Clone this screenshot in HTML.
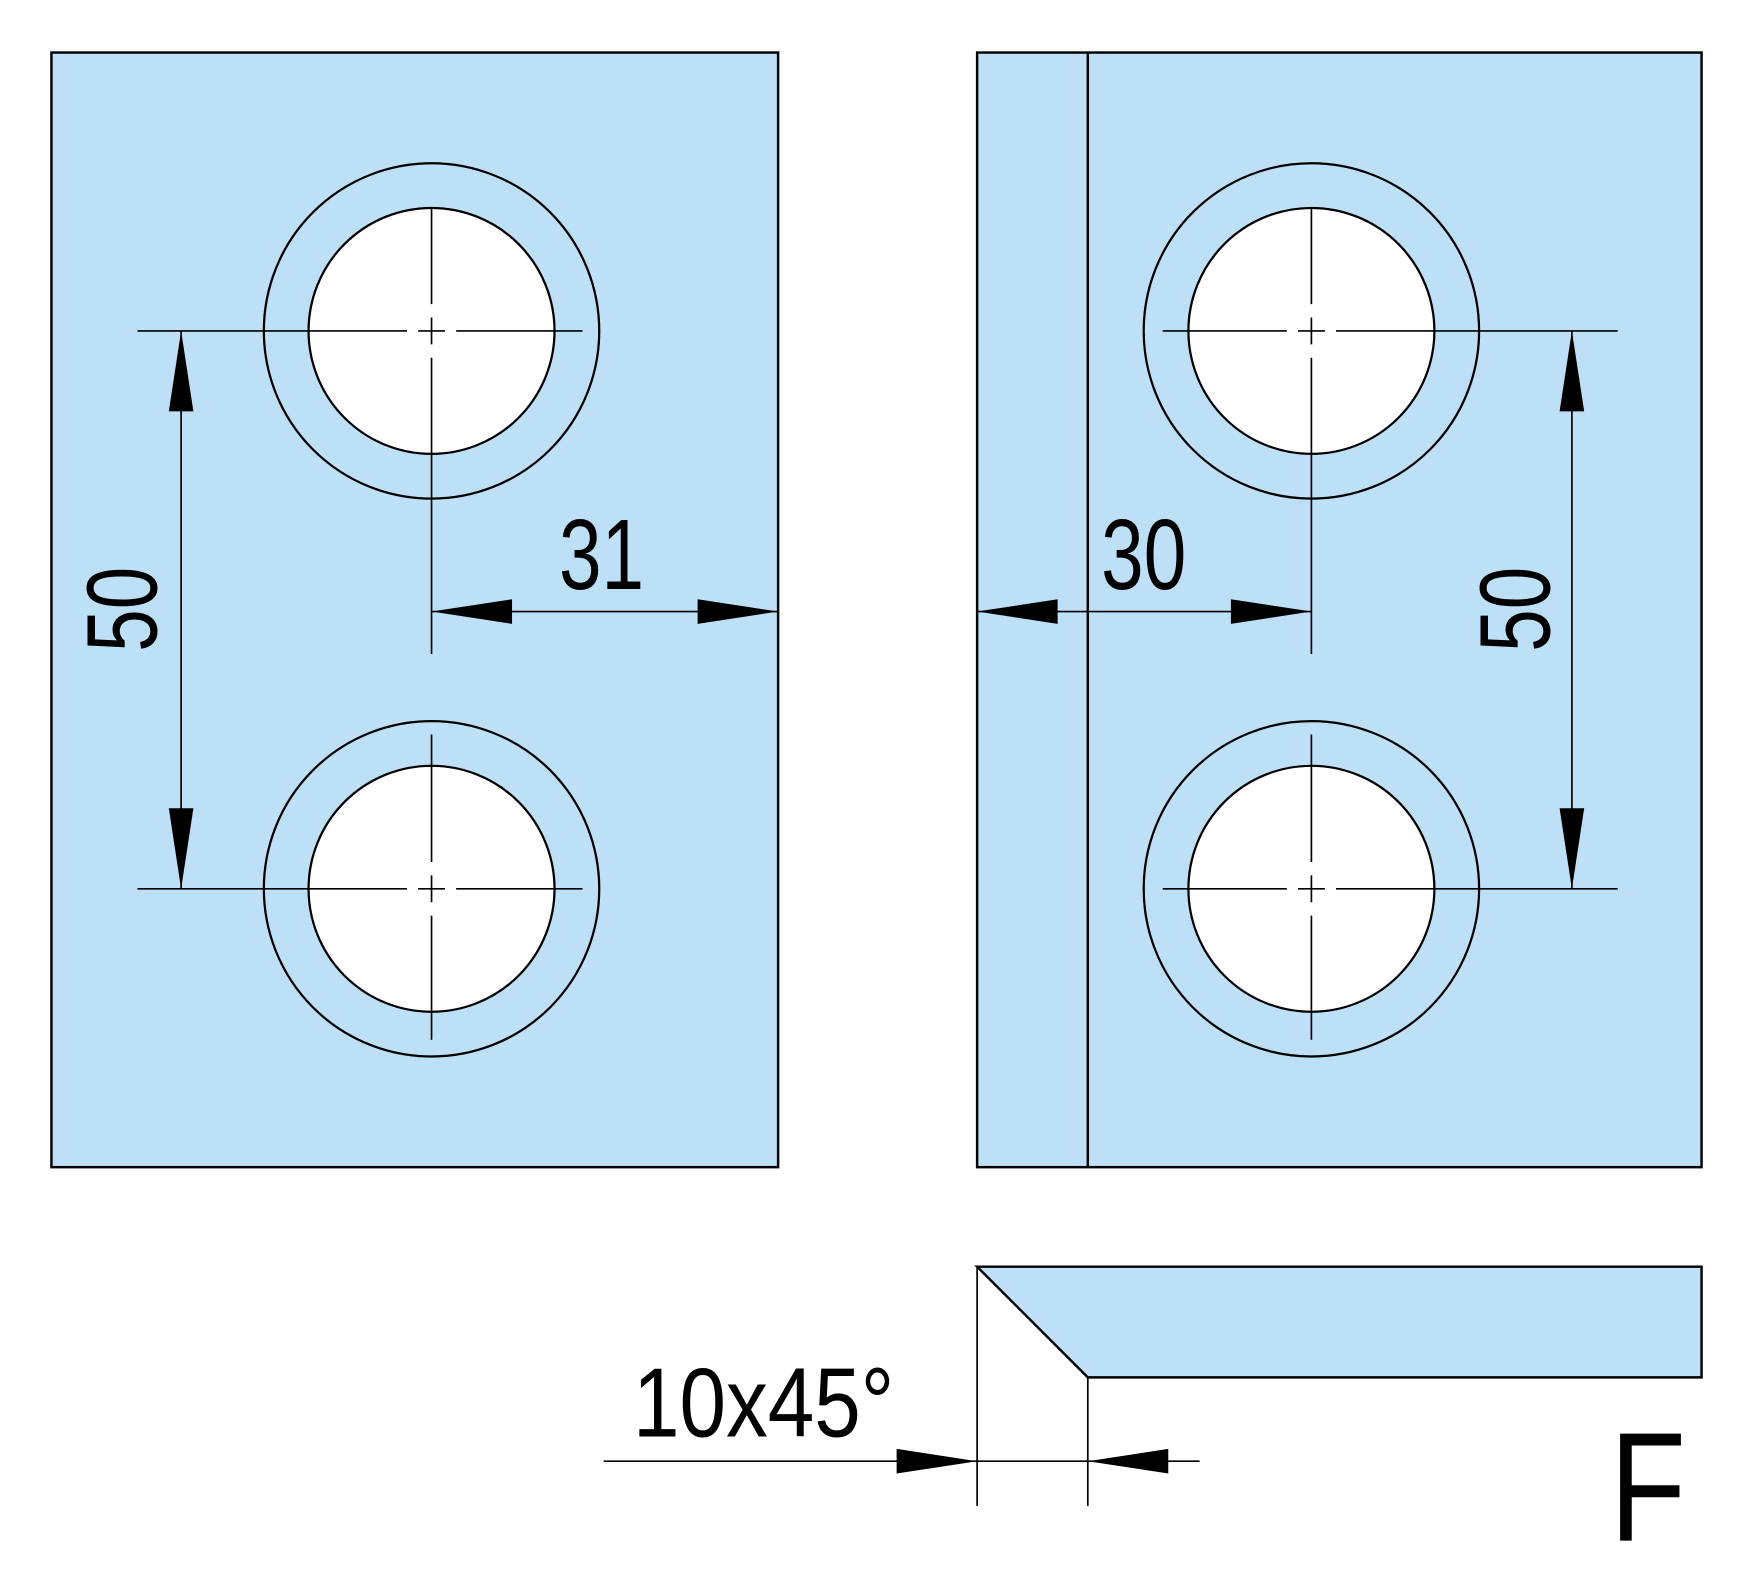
<!DOCTYPE html>
<html><head><meta charset="utf-8"><style>html,body{margin:0;padding:0;background:#fff}svg{display:block}</style></head>
<body>
<svg width="1753" height="1573" viewBox="0 0 1568 1407" preserveAspectRatio="none" xmlns="http://www.w3.org/2000/svg" font-family="Liberation Sans, sans-serif">
<g stroke="#000" stroke-width="2.2" fill="#bde0f7">
<rect x="46" y="47" width="650" height="997"/>
<rect x="874" y="47" width="648" height="997"/>
<line x1="973" y1="47" x2="973" y2="1044"/>
<polygon points="874,1133 1522,1133 1522,1232 973,1232"/>
</g>
<g stroke="#000" stroke-width="2">
<circle cx="386" cy="296" r="150" fill="none"/><circle cx="386" cy="296" r="110" fill="#fff"/>
<circle cx="386" cy="795" r="150" fill="none"/><circle cx="386" cy="795" r="110" fill="#fff"/>
<circle cx="1173" cy="296" r="150" fill="none"/><circle cx="1173" cy="296" r="110" fill="#fff"/>
<circle cx="1173" cy="795" r="150" fill="none"/><circle cx="1173" cy="795" r="110" fill="#fff"/>
</g>
<g stroke="#000" stroke-width="1.5" fill="none">
<path d="M123 296H364M374 296H398M408 296H521M386 187V272M386 284V308M386 320V585"/>
<path d="M123 795H364M374 795H398M408 795H521M386 657V771M386 783V807M386 819V930"/>
<path d="M1040 296H1151M1161 296H1185M1195 296H1447M1173 187V272M1173 284V308M1173 320V585"/>
<path d="M1040 795H1151M1161 795H1185M1195 795H1447M1173 657V771M1173 783V807M1173 819V930"/>
<path d="M162 296V795M386 547H696M1406 296V795M874 547H1173"/>
<path d="M874 1133V1347M973 1232V1347M540 1307H1073M874 1133L973 1232"/>
</g>
<g fill="#000">
<polygon points="162,296 151,368 173,368"/><polygon points="162,795 151,723 173,723"/>
<polygon points="1406,296 1395,368 1417,368"/><polygon points="1406,795 1395,723 1417,723"/>
<polygon points="386,547 458,536 458,558"/><polygon points="696,547 624,536 624,558"/>
<polygon points="874,547 946,536 946,558"/><polygon points="1173,547 1101,536 1101,558"/>
<polygon points="874,1307 802,1296 802,1318"/><polygon points="973,1307 1045,1296 1045,1318"/>
</g>
<g fill="#000" font-size="90">
<text transform="translate(538,527) scale(0.76,1)" text-anchor="middle">31</text>
<text transform="translate(1023,527) scale(0.76,1)" text-anchor="middle">30</text>
<text transform="translate(140,545) rotate(-90) scale(0.76,1)" text-anchor="middle">50</text>
<text transform="translate(1386,545) rotate(-90) scale(0.76,1)" text-anchor="middle">50</text>
<text transform="translate(683,1285) scale(0.85,1)" text-anchor="middle" font-size="88">10x45°</text>
<text transform="translate(1474,1378) scale(0.8,1)" text-anchor="middle" font-size="139">F</text>
</g>
</svg>
</body></html>
